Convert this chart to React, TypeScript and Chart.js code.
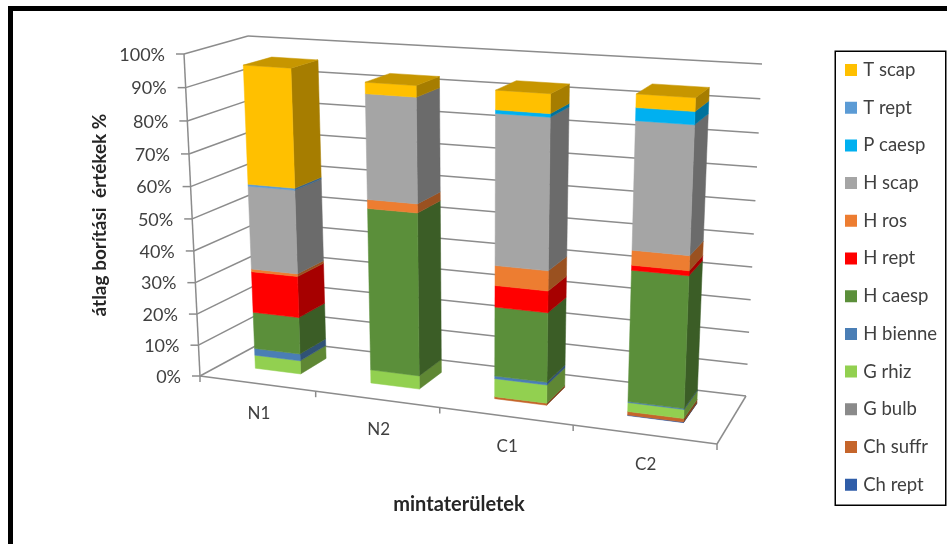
import React, { useEffect, useRef } from "react";
import { Chart, registerables } from "chart.js";

Chart.register(...registerables);

const categories = ["N1", "N2", "C1", "C2"];
const yTickStep = 10;

const chRept = [0, 0, 0, 0.18];
const chSuffr = [0, 0, 0.63, 1.05];
const gBulb = [0, 0, 0, 0];
const gRhiz = [4.3, 4.2, 5.66, 2.75];
const hBienne = [2.2, 0, 0.83, 0.31];
const hCaesp = [11.8, 50.65, 21.35, 39.5];
const hRept = [13.1, 0, 6.6, 1.47];
const hRos = [0.85, 2.75, 6.08, 4.4];
const hScap = [26.2, 31.8, 45.1, 37.3];
const pCaesp = [0, 0, 1.04, 3.7];
const tRept = [0.6, 0, 0, 0];
const tScap = [36.5, 3.4, 5.7, 3.85];

const seriesNames = ["Ch rept", "Ch suffr", "G bulb", "G rhiz", "H bienne", "H caesp", "H rept", "H ros", "H scap", "P caesp", "T rept", "T scap"];
const seriesValues = [chRept, chSuffr, gBulb, gRhiz, hBienne, hCaesp, hRept, hRos, hScap, pCaesp, tRept, tScap];
const seriesColors = ["#2F5DA8", "#C5652B", "#8A8A8A", "#92D050", "#4A7EB5", "#5B8F3A", "#FF0000", "#ED7D31", "#A5A5A5", "#00B0F0", "#5B9BD5", "#FFC000"];

type Pt = [number, number];

// Corners of the plot box as seen on screen.
const floorFL: Pt = [200, 376];
const floorFR: Pt = [717, 444];
const floorBR: Pt = [746, 396];
const floorBL: Pt = [267.5, 339.5];
const roofFL: Pt = [184, 54];
const roofBR: Pt = [762, 64];
const roofBL: Pt = [248, 36];

// Vertical edges all meet at one point far below the plot; a floor point rises towards
// its roof point along the line through it.
const verticalVanish: Pt = [478, 5963];
const roofGrowthBase = 0.94554;
const roofGrowthSlope = -8.81e-5;
const heightForeshortening = 1.05;
const barFront = 0.31;
const barBack = 0.72;

const FONT = "Lato";
const TEXT = "#404040";
const LINE = "#8C8C8C";

// Maps the unit square onto a screen quadrilateral.
function quadMap(p0: Pt, p1: Pt, p2: Pt, p3: Pt) {
  const dx1 = p1[0] - p2[0], dx2 = p3[0] - p2[0], sx = p0[0] - p1[0] + p2[0] - p3[0];
  const dy1 = p1[1] - p2[1], dy2 = p3[1] - p2[1], sy = p0[1] - p1[1] + p2[1] - p3[1];
  const det = dx1 * dy2 - dx2 * dy1;
  const g = (sx * dy2 - dx2 * sy) / det;
  const h = (dx1 * sy - sx * dy1) / det;
  const a = p1[0] - p0[0] + g * p1[0], b = p3[0] - p0[0] + h * p3[0], c = p0[0];
  const d = p1[1] - p0[1] + g * p1[1], e = p3[1] - p0[1] + h * p3[1], f = p0[1];
  return (u: number, v: number): Pt => {
    const q = g * u + h * v + 1;
    return [(a * u + b * v + c) / q, (d * u + e * v + f) / q];
  };
}

const floorMap = quadMap(floorFL, floorFR, floorBR, floorBL);
const heightFraction = (w: number) => w / (w + (1 - w) * heightForeshortening);
const mix = (a: Pt, b: Pt, t: number): Pt => [a[0] + (b[0] - a[0]) * t, a[1] + (b[1] - a[1]) * t];

function project(u: number, v: number, w: number): Pt {
  const a = floorMap(u, v);
  const s = 1 / (roofGrowthBase + roofGrowthSlope * (a[1] - floorFL[1]));
  const b: Pt = [
    verticalVanish[0] + s * (a[0] - verticalVanish[0]),
    verticalVanish[1] + s * (a[1] - verticalVanish[1]),
  ];
  return mix(a, b, heightFraction(w));
}

function shade(hex: string, k: number) {
  const n = parseInt(hex.slice(1), 16);
  const r = Math.round(((n >> 16) & 255) * k);
  const g = Math.round(((n >> 8) & 255) * k);
  const b = Math.round((n & 255) * k);
  return `rgb(${r},${g},${b})`;
}

function poly(ctx: CanvasRenderingContext2D, pts: Pt[], fill: string) {
  ctx.beginPath();
  pts.forEach((p, i) => (i ? ctx.lineTo(p[0], p[1]) : ctx.moveTo(p[0], p[1])));
  ctx.closePath();
  ctx.fillStyle = fill;
  ctx.fill();
  ctx.strokeStyle = fill;
  ctx.lineWidth = 0.5;
  ctx.stroke();
}

function segment(ctx: CanvasRenderingContext2D, a: Pt, b: Pt) {
  ctx.beginPath();
  ctx.moveTo(a[0], a[1]);
  ctx.lineTo(b[0], b[1]);
  ctx.stroke();
}

// Draws the box, the axes and the stacked columns in perspective from the scales' own pixels.
const perspectivePlugin = {
  id: "perspective",
  afterLayout(chart: any) {
    const legend = chart.legend;
    const pad = chart.options.plugins.legend.labels.padding;
    const width = legend.right - legend.left;
    const height = legend.bottom - legend.top;
    legend.left = 848 - pad;
    legend.right = legend.left + width;
    legend.top = 60.75 - pad;
    legend.bottom = legend.top + height;
  },
  beforeDraw(chart: any) {
    const { ctx, width, height } = chart;
    ctx.save();
    ctx.fillStyle = "#FFFFFF";
    ctx.fillRect(0, 0, width, height);
    ctx.fillStyle = "#000000";
    ctx.fillRect(8, 6, width - 8, 5);
    ctx.fillRect(8, 6, 5, height - 6);
    ctx.strokeStyle = "#000000";
    ctx.lineWidth = 1.5;
    ctx.strokeRect(835.25, 51.25, 110.5, 454);
    ctx.restore();
  },
  beforeDatasetsDraw(chart: any) {
    const { ctx, chartArea, scales } = chart;
    const yScale = scales.y;
    const xScale = scales.x;
    const toU = (x: number) => (x - chartArea.left) / chartArea.width;
    const toW = (y: number) => (chartArea.bottom - y) / chartArea.height;

    ctx.save();
    ctx.strokeStyle = LINE;
    ctx.lineWidth = 1.5;
    ctx.lineCap = "butt";

    // Walls and their value labels
    ctx.font = `18px ${FONT}`;
    ctx.textBaseline = "middle";
    yScale.ticks.forEach((tick: any, i: number) => {
      const t = heightFraction(toW(yScale.getPixelForTick(i)));
      const front = mix(floorFL, roofFL, t);
      const backLeft = mix(floorBL, roofBL, t);
      const backRight = mix(floorBR, roofBR, t);
      segment(ctx, backLeft, backRight);
      segment(ctx, front, backLeft);
      segment(ctx, [front[0] - 8, front[1]], front);
      ctx.fillStyle = TEXT;
      ctx.textAlign = "right";
      ctx.fillText(tick.label, front[0] - 19, front[1] + 1);
    });
    segment(ctx, roofFL, floorFL);

    // Floor outline and category ticks
    segment(ctx, floorFL, floorFR);
    segment(ctx, floorFR, floorBR);
    const bandCount = categories.length;
    for (let i = 0; i <= bandCount; i++) {
      const p = project(i / bandCount, 0, 0);
      segment(ctx, p, [p[0], p[1] + 6]);
    }
    ctx.font = `17px ${FONT}`;
    xScale.ticks.forEach((_t: any, i: number) => {
      const p = project(toU(xScale.getPixelForTick(i)), 0, 0);
      ctx.fillStyle = TEXT;
      ctx.textAlign = "center";
      ctx.fillText(categories[i], p[0] + 2, p[1] + 30);
    });

    // Columns, lowest segment first
    categories.forEach((_c, col) => {
      let topSegment: any = null;
      chart.data.datasets.forEach((ds: any, di: number) => {
        const bar = chart.getDatasetMeta(di).data[col];
        const { x, y, base, width } = bar.getProps(["x", "y", "base", "width"], true);
        if (Math.abs(base - y) < 0.01) return;
        const u0 = toU(x - width / 2);
        const u1 = toU(x + width / 2);
        const w0 = toW(base);
        const w1 = toW(y);
        const color = ds.backgroundColor;
        poly(ctx, [project(u1, barFront, w0), project(u1, barBack, w0), project(u1, barBack, w1), project(u1, barFront, w1)], shade(color, 0.65));
        poly(ctx, [project(u0, barFront, w0), project(u1, barFront, w0), project(u1, barFront, w1), project(u0, barFront, w1)], color);
        topSegment = { u0, u1, w1, color };
      });
      if (topSegment) {
        const { u0, u1, w1, color } = topSegment;
        poly(ctx, [project(u0, barFront, w1), project(u1, barFront, w1), project(u1, barBack, w1), project(u0, barBack, w1)], shade(color, 0.78));
      }
    });

    // Axis titles
    ctx.fillStyle = "#262626";
    ctx.font = `bold 20px ${FONT}`;
    ctx.textAlign = "center";
    ctx.fillText("mintaterületek", 459, 505);
    ctx.font = `bold 19px ${FONT}`;
    ctx.translate(100, 215);
    ctx.rotate(-Math.PI / 2);
    ctx.fillText("átlag borítási  értékek %", 0, 0);
    ctx.restore();
    return false;
  },
};

export default function App() {
  const ref = useRef<HTMLCanvasElement | null>(null);
  useEffect(() => {
    if (!ref.current) return;
    const chart = new Chart(ref.current, {
      type: "bar",
      data: {
        labels: categories,
        datasets: seriesNames.map((label, i) => ({
          label,
          data: seriesValues[i],
          backgroundColor: seriesColors[i],
          borderColor: seriesColors[i],
          borderWidth: 6,
        })),
      },
      options: {
        responsive: false,
        animation: false,
        categoryPercentage: 1,
        barPercentage: 0.4,
        scales: {
          x: { stacked: true, display: false },
          y: {
            stacked: true,
            display: false,
            min: 0,
            max: 100,
            ticks: { stepSize: yTickStep, callback: (v: any) => `${v}%` },
          },
        },
        plugins: {
          title: { display: false },
          tooltip: { enabled: false },
          legend: {
            position: "right",
            align: "start",
            reverse: true,
            labels: {
              boxWidth: 6,
              boxHeight: 6,
              padding: 19.2,
              color: TEXT,
              font: { family: FONT, size: 18.5 },
            },
          },
        },
      },
      plugins: [perspectivePlugin],
    } as any);
    return () => chart.destroy();
  }, []);
  return (
    <canvas
      ref={ref}
      width={947}
      height={544}
      style={{ position: "fixed", left: 0, top: 0, display: "block" }}
    />
  );
}
